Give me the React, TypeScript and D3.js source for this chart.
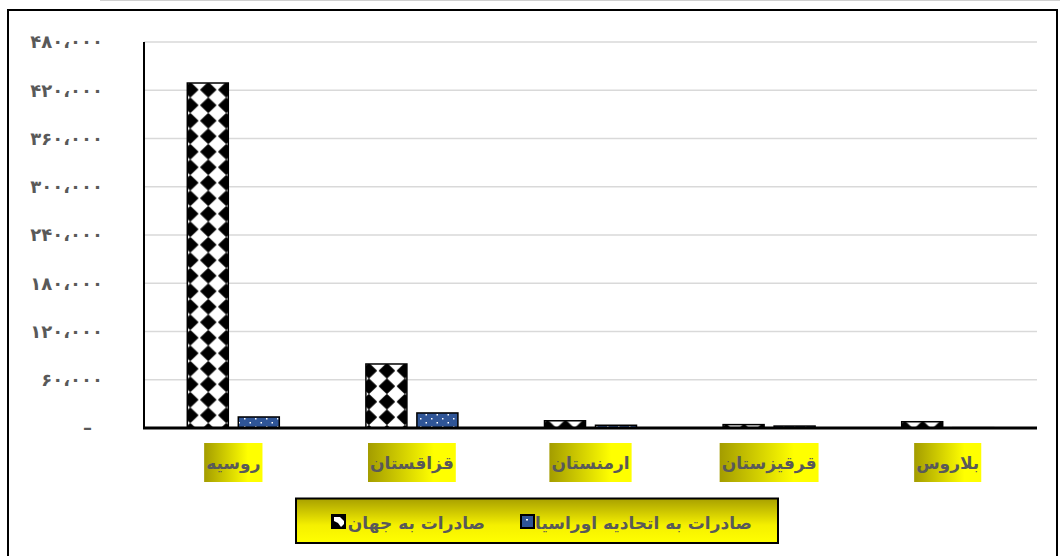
import React, { useEffect, useRef } from "react";
import * as d3 from "d3";

const categories = ["روسیه", "قزاقستان", "ارمنستان", "قرقیزستان", "بلاروس"];
const worldExports = [429000, 79600, 9000, 4200, 7800];
const eaeuExports = [13700, 18700, 3400, 2400, 400];
const yTicks = [0, 60000, 120000, 180000, 240000, 300000, 360000, 420000, 480000];
const seriesNames = ["صادرات به جهان", "صادرات به اتحادیه اوراسیا"];

const FONT = "'DejaVu Sans', sans-serif";
const GRAY = "#595959";
const BLUE = "#2F5597";

const toPersian = (s: string) =>
  s.replace(/\d/g, (d) => "۰۱۲۳۴۵۶۷۸۹"[+d]).replace(/,/g, "،");

export default function App() {
  const ref = useRef<SVGSVGElement | null>(null);

  useEffect(() => {
    const svg = d3.select(ref.current);
    svg.selectAll("*").remove();

    const defs = svg.append("defs");
    const lg = defs.append("linearGradient").attr("id", "lblGrad").attr("x1", "0").attr("x2", "1").attr("y1", "0").attr("y2", "0");
    lg.append("stop").attr("offset", "0").attr("stop-color", "#A39C00");
    lg.append("stop").attr("offset", "0.75").attr("stop-color", "#FFFF00");
    lg.append("stop").attr("offset", "1").attr("stop-color", "#FFFF00");
    const vg = defs.append("linearGradient").attr("id", "legGrad").attr("x1", "0").attr("x2", "0").attr("y1", "0").attr("y2", "1");
    vg.append("stop").attr("offset", "0").attr("stop-color", "#A8A000");
    vg.append("stop").attr("offset", "0.6").attr("stop-color", "#F5F000");
    vg.append("stop").attr("offset", "1").attr("stop-color", "#FFFF00");

    const bp = defs.append("pattern").attr("id", "bluePat").attr("patternUnits", "userSpaceOnUse").attr("width", 11).attr("height", 8);
    bp.append("rect").attr("width", 11).attr("height", 8).attr("fill", BLUE);
    bp.append("rect").attr("x", 2).attr("y", 2).attr("width", 1.5).attr("height", 1.5).attr("fill", "#fff");
    bp.append("rect").attr("x", 7.5).attr("y", 6).attr("width", 1.5).attr("height", 1.5).attr("fill", "#fff");

    // outer frame
    svg.append("line").attr("x1", 100).attr("x2", 1060).attr("y1", 0.5).attr("y2", 0.5).attr("stroke", "#d0d0d0").attr("stroke-width", 1);
    svg.append("rect").attr("x", 8).attr("y", 10).attr("width", 1049).attr("height", 570)
      .attr("fill", "#fff").attr("stroke", "#000").attr("stroke-width", 2);

    const x0 = 144, x1 = 1037;
    const y = d3.scaleLinear().domain([0, 480000]).range([428, 42]);
    const x = d3.scaleBand().domain(categories).range([x0, x1]);
    const xs = d3.scaleBand().domain(seriesNames).range([0, 92]).paddingInner(0.196);

    // gridlines
    svg.append("g").selectAll("line").data(yTicks.filter((t) => t > 0)).join("line")
      .attr("x1", x0).attr("x2", x1).attr("y1", (d) => y(d)).attr("y2", (d) => y(d))
      .attr("stroke", "#D9D9D9").attr("stroke-width", 1.5);

    // y labels
    svg.append("g").selectAll("text").data(yTicks).join("text")
      .attr("x", (d) => (d === 0 ? 92 : 103)).attr("y", (d) => y(d)).attr("dy", "0.35em")
      .attr("text-anchor", "end").attr("font-family", FONT).attr("font-weight", "bold")
      .attr("font-size", 18).attr("fill", GRAY)
      .text((d) => (d === 0 ? "–" : toPersian(d3.format(",")(d))));

    // bars
    categories.forEach((c, i) => {
      const gx = (x(c) as number) + x.bandwidth() / 2 - 46;
      const bw = xs.bandwidth();
      const wx = gx + (xs(seriesNames[0]) as number);
      const wTop = y(worldExports[i]);
      const pid = `dia${i}`;
      const p = defs.append("pattern").attr("id", pid).attr("patternUnits", "userSpaceOnUse")
        .attr("x", wx - 6).attr("y", wTop - 1).attr("width", 18).attr("height", 15.5);
      p.append("rect").attr("width", 18).attr("height", 15.5).attr("fill", "#fff");
      p.append("path").attr("d", "M9,0.8 L16.3,7.75 L9,14.7 L1.7,7.75 Z").attr("fill", "#000")
        .attr("stroke", "#000").attr("stroke-width", 1.4).attr("stroke-linejoin", "round");
      svg.append("rect").attr("x", wx).attr("y", wTop).attr("width", bw).attr("height", y(0) - wTop)
        .attr("fill", `url(#${pid})`).attr("stroke", "#000").attr("stroke-width", 1.5);
      const ex = gx + (xs(seriesNames[1]) as number);
      const eTop = y(eaeuExports[i]);
      svg.append("rect").attr("x", ex).attr("y", eTop).attr("width", bw).attr("height", y(0) - eTop)
        .attr("fill", "url(#bluePat)").attr("stroke", "#000").attr("stroke-width", 1.5);
    });

    // axes lines
    svg.append("line").attr("x1", x0).attr("x2", x0).attr("y1", 42).attr("y2", 429).attr("stroke", "#000").attr("stroke-width", 2);
    svg.append("line").attr("x1", x0 - 1).attr("x2", x1).attr("y1", 428).attr("y2", 428).attr("stroke", "#000").attr("stroke-width", 3);

    // category labels
    const lab = svg.append("g").selectAll("g").data(categories).join("g");
    lab.each(function (c) {
      const g = d3.select(this);
      const cx = (x(c) as number) + x.bandwidth() / 2;
      const rect = g.append("rect").attr("fill", "url(#lblGrad)");
      const t = g.append("text").attr("x", cx).attr("y", 463).attr("dy", "0.35em").attr("text-anchor", "middle")
        .attr("font-family", FONT).attr("font-weight", "bold").attr("font-size", 17).attr("fill", GRAY)
        .attr("direction", "rtl").text(c);
      const w = (t.node() as SVGTextElement).getComputedTextLength() + 4;
      rect.attr("x", cx - w / 2).attr("y", 443).attr("width", w).attr("height", 39);
    });

    // legend
    svg.append("rect").attr("x", 296).attr("y", 498.5).attr("width", 482).attr("height", 44.5)
      .attr("fill", "url(#legGrad)").attr("stroke", "#000").attr("stroke-width", 2);
    const lt = (s: string, xr: number) =>
      svg.append("text").attr("x", xr).attr("y", 523).attr("dy", "0.35em").attr("text-anchor", "start")
        .attr("font-family", FONT).attr("font-weight", "bold").attr("font-size", 17).attr("fill", GRAY)
        .attr("direction", "rtl").text(s);
    lt(seriesNames[1], 752);
    lt(seriesNames[0], 485);
    svg.append("rect").attr("x", 521).attr("y", 515).attr("width", 13).attr("height", 13)
      .attr("fill", BLUE).attr("stroke", "#000").attr("stroke-width", 2);
    svg.append("rect").attr("x", 526).attr("y", 519).attr("width", 2).attr("height", 1.5).attr("fill", "#fff");
    svg.append("rect").attr("x", 332).attr("y", 515).attr("width", 13).attr("height", 13)
      .attr("fill", "#000").attr("stroke", "#000").attr("stroke-width", 2);
    svg.append("path").attr("d", "M334,517 L340,517 L344,521 L344,524 L341,527 L338,523 L334,521 Z").attr("fill", "#fff");
  }, []);

  return (
    <div style={{ position: "fixed", left: 0, top: 0 }}>
      <svg ref={ref} width={1060} height={556} style={{ display: "block", background: "#fff" }} />
    </div>
  );
}
